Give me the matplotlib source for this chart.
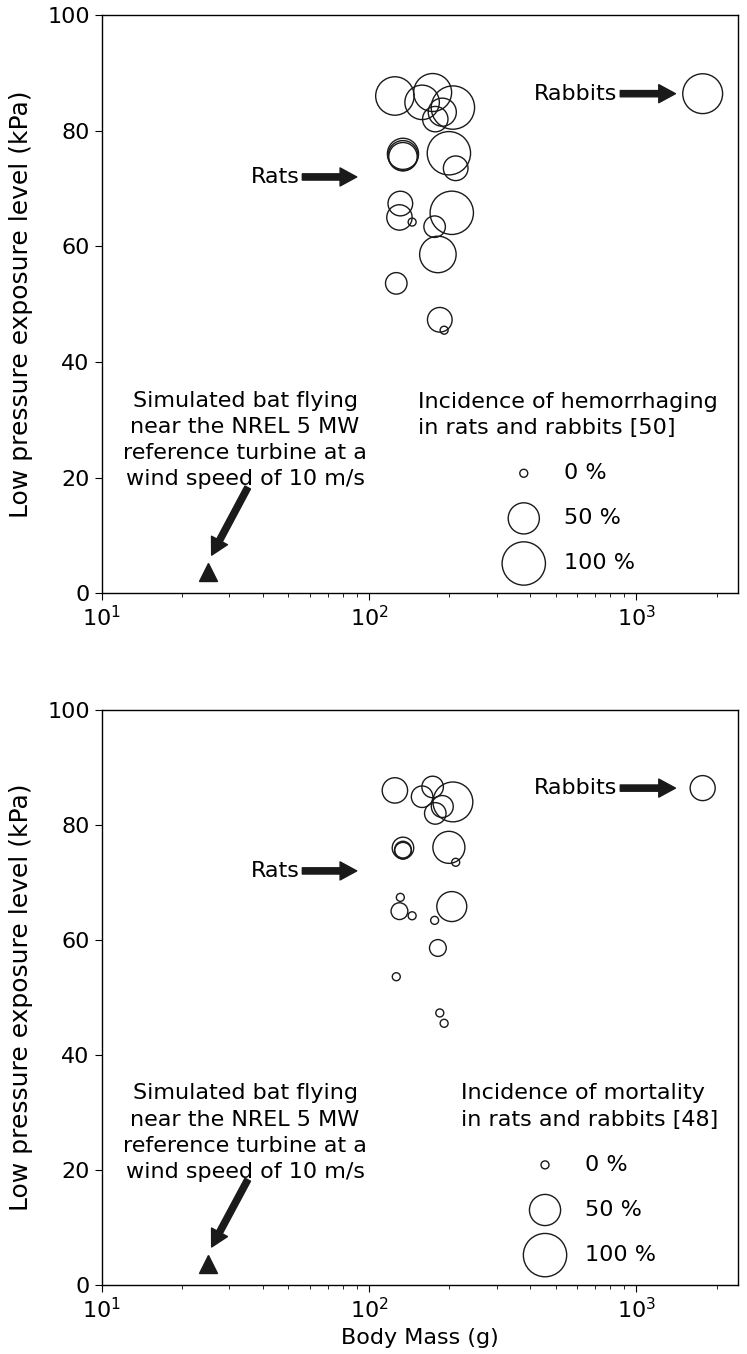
import matplotlib.pyplot as plt

# rat experiments: body mass (g), peak low pressure (kPa)
rat_mass = [125, 173, 158, 206, 188, 177, 134, 134, 134, 199, 211,
            131, 130, 145, 204, 176, 181, 126.5, 184, 191]
rat_pressure = [86.0, 86.6, 84.9, 84.0, 83.2, 82.0, 76.0, 75.7, 75.5, 76.1, 73.5,
                67.4, 65.0, 64.2, 65.8, 63.4, 58.6, 53.6, 47.3, 45.5]
# incidence (%) of hemorrhaging / mortality for each experiment
rat_hemorrhage = [78, 76, 62, 100, 40, 32, 50, 46, 41, 100, 30,
                  30, 32, 0, 100, 22, 70, 22, 30, 0]
rat_mortality = [32, 22, 22, 84, 23, 22, 22, 12, 12, 53, 0,
                 0, 12, 0, 46, 0, 12, 0, 0, 0]

rabbit_mass = [1770]
rabbit_pressure = [86.4]
rabbit_hemorrhage = [84]
rabbit_mortality = [31]

# simulated bat
bat_mass = [25]
bat_pressure = [3.7]

legend_pct = [0, 50, 100]
legend_labels = ['0 %', '50 %', '100 %']

bat_text = ('Simulated bat flying\nnear the NREL 5 MW\n'
            'reference turbine at a\nwind speed of 10 m/s')

FS = 16


def size(p):
    # marker area grows linearly with incidence
    return 33 + 9.4 * p


def draw_panel(ax, rat_pct, rabbit_pct, legend_title):
    ax.scatter(rat_mass, rat_pressure, s=[size(p) for p in rat_pct],
               facecolors='none', edgecolors='#1a1a1a', linewidths=1.0, zorder=3)
    ax.scatter(rabbit_mass, rabbit_pressure, s=[size(p) for p in rabbit_pct],
               facecolors='none', edgecolors='#1a1a1a', linewidths=1.0, zorder=3)
    ax.plot(bat_mass, bat_pressure, marker='^', color='#1a1a1a', ms=13, ls='none')

    arrow = dict(facecolor='#1a1a1a', edgecolor='#1a1a1a', width=4.5,
                 headwidth=13, headlength=12, shrink=0)
    ax.annotate('Rats', xy=(90, 72), xytext=(55, 72), ha='right', va='center',
                fontsize=FS, arrowprops=arrow)
    ax.annotate('Rabbits', xy=(1400, 86.4), xytext=(850, 86.4), ha='right',
                va='center', fontsize=FS, arrowprops=arrow)
    ax.text(34.4, 26.5, bat_text, ha='center', va='center', fontsize=FS,
            multialignment='center', linespacing=1.38)
    ax.annotate('', xy=(25.8, 6.6), xytext=(35.2, 18.3), arrowprops=arrow)

    handles = [ax.scatter([], [], s=size(p), facecolors='none',
                          edgecolors='#1a1a1a', linewidths=1.0) for p in legend_pct]
    leg = ax.legend(handles, legend_labels, title=legend_title, loc='lower right',
                    frameon=False, fontsize=FS, title_fontsize=FS,
                    labelspacing=1.13, scatterpoints=1)
    leg.get_title().set_multialignment('left')
    leg.get_title().set_linespacing(1.4)

    ax.set_xscale('log')
    ax.set_xlim(10, 2400)
    ax.set_ylim(0, 100)
    ax.set_yticks([0, 20, 40, 60, 80, 100])
    ax.set_ylabel('Low pressure exposure level (kPa)', fontsize=18, labelpad=10)
    ax.tick_params(labelsize=FS, direction='out')
    ax.tick_params(which='major', length=5)
    ax.tick_params(which='minor', length=3)
    for s in ax.spines.values():
        s.set_linewidth(1.0)


fig = plt.figure(figsize=(7.47, 13.54), dpi=100)
ax1 = fig.add_axes([0.136, 0.5618, 0.852, 0.4271])
ax2 = fig.add_axes([0.136, 0.051, 0.852, 0.4247])

draw_panel(ax1, rat_hemorrhage, rabbit_hemorrhage,
           'Incidence of hemorrhaging\nin rats and rabbits [50]')
draw_panel(ax2, rat_mortality, rabbit_mortality,
           'Incidence of mortality\nin rats and rabbits [48]')
ax2.set_xlabel('Body Mass (g)', fontsize=FS)

fig.savefig('out.png', dpi=100)
